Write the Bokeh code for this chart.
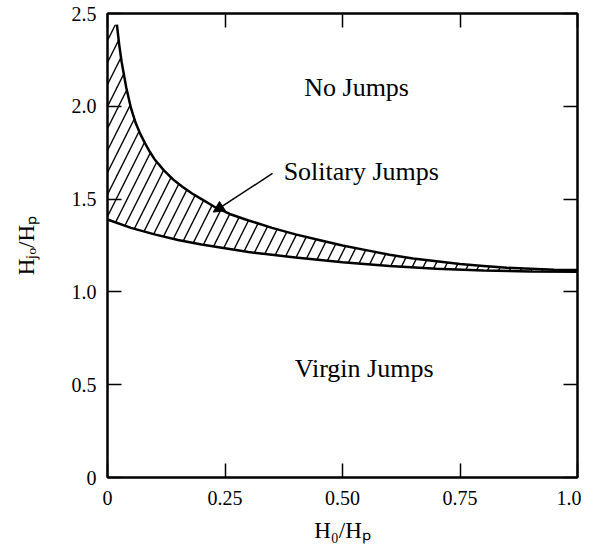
from bokeh.plotting import figure
from bokeh.models import LinearAxis, FixedTicker, ColumnDataSource, Arrow, NormalHead, Range1d
from bokeh.core.properties import value
from bokeh.embed import file_html
from bokeh.resources import INLINE

# ---- data ----
upper_x = [0.02, 0.025, 0.03, 0.04, 0.05, 0.06, 0.07, 0.08, 0.09, 0.10, 0.12, 0.14, 0.16, 0.18, 0.20,
           0.23, 0.26, 0.30, 0.35, 0.40, 0.45, 0.50, 0.55, 0.60, 0.65, 0.70, 0.75, 0.80, 0.85, 0.90, 0.95, 1.00]
upper_y = [2.44, 2.33, 2.24, 2.10, 1.99, 1.91, 1.85, 1.80, 1.755, 1.715, 1.655, 1.605, 1.565, 1.53, 1.50,
           1.455, 1.42, 1.385, 1.345, 1.31, 1.28, 1.25, 1.225, 1.20, 1.18, 1.165, 1.15, 1.14, 1.13, 1.125, 1.12, 1.118]
lower_x = [0.00, 0.05, 0.10, 0.15, 0.20, 0.25, 0.30, 0.35, 0.40, 0.50, 0.60, 0.70, 0.80, 0.90, 1.00]
lower_y = [1.39, 1.345, 1.31, 1.28, 1.255, 1.235, 1.215, 1.20, 1.185, 1.16, 1.14, 1.125, 1.115, 1.11, 1.108]

x_ticks = [0, 0.25, 0.5, 0.75, 1.0]
x_tick_labels = ["0", "0.25", "0.50", "0.75", "1.0"]
y_ticks = [0, 0.5, 1.0, 1.5, 2.0, 2.5]
y_tick_labels = ["0", "0.5", "1.0", "1.5", "2.0", "2.5"]

region_names = ["No Jumps", "Solitary Jumps", "Virgin Jumps"]
region_x = [0.530, 0.540, 0.546]
region_y = [2.10, 1.649, 0.587]

arrow_start = (0.351, 1.638)
arrow_end = (0.225, 1.43)

FONT = "Liberation Serif"

p = figure(output_backend="svg", toolbar_location=None,
           x_range=Range1d(0, 1.0), y_range=Range1d(0, 2.5),
           min_border_left=107, min_border_top=13, min_border_right=4, min_border_bottom=62,
           frame_width=470, frame_height=464)
p.grid.visible = False
p.outline_line_color = "black"
p.outline_line_width = 2
p.background_fill_color = "white"
p.border_fill_color = "white"

# hatched band between curves
poly_x = [0.0] + upper_x + lower_x[::-1]
poly_y = [upper_y[0]] + upper_y + lower_y[::-1]
p.patch(poly_x, poly_y, fill_color=None, line_color=None,
        hatch_pattern="/", hatch_scale=22, hatch_weight=1.4, hatch_color="black")

p.line(upper_x, upper_y, line_color="black", line_width=2.5)
p.line(lower_x, lower_y, line_color="black", line_width=2.5)

src = ColumnDataSource(dict(x=region_x, y=region_y, t=region_names))
p.text(x="x", y="y", text="t", source=src, text_font=value(FONT), text_font_size="26px",
       text_align="center", text_baseline="middle", text_color="black")

p.add_layout(Arrow(end=NormalHead(size=11, fill_color="black", line_color="black"),
                   x_start=arrow_start[0], y_start=arrow_start[1],
                   x_end=arrow_end[0], y_end=arrow_end[1], line_width=1.5, line_color="black"))

def style(ax):
    ax.axis_line_width = 2
    ax.major_tick_in = 14
    ax.major_tick_out = 0
    ax.major_tick_line_width = 1.5
    ax.minor_tick_line_color = None
    ax.major_label_text_font = FONT
    ax.major_label_text_font_size = "20px"
    ax.major_label_text_color = "black"
    ax.axis_label_text_font = FONT
    ax.axis_label_text_font_style = "normal"
    ax.axis_label_text_font_size = "23px"
    ax.axis_label_text_color = "black"

p.xaxis.ticker = FixedTicker(ticks=x_ticks)
p.xaxis.major_label_overrides = dict(zip(x_ticks, x_tick_labels))
p.yaxis.ticker = FixedTicker(ticks=y_ticks)
p.yaxis.major_label_overrides = dict(zip(y_ticks, y_tick_labels))
p.xaxis.axis_label = "H₀/Hₚ"
p.yaxis.axis_label = "Hⱼₒ/Hₚ"
p.xaxis.major_label_standoff = 13
p.yaxis.major_label_standoff = 11
p.xaxis.axis_label_standoff = 10
p.yaxis.axis_label_standoff = 30
style(p.xaxis[0])
style(p.yaxis[0])

top = LinearAxis(ticker=FixedTicker(ticks=x_ticks), major_label_overrides={t: "" for t in x_ticks})
right = LinearAxis(ticker=FixedTicker(ticks=y_ticks), major_label_overrides={t: "" for t in y_ticks})
style(top)
style(right)
top.major_label_standoff = 0
right.major_label_standoff = 0
p.add_layout(top, "above")
p.add_layout(right, "right")

open("out.html", "w").write(file_html(p, INLINE))
